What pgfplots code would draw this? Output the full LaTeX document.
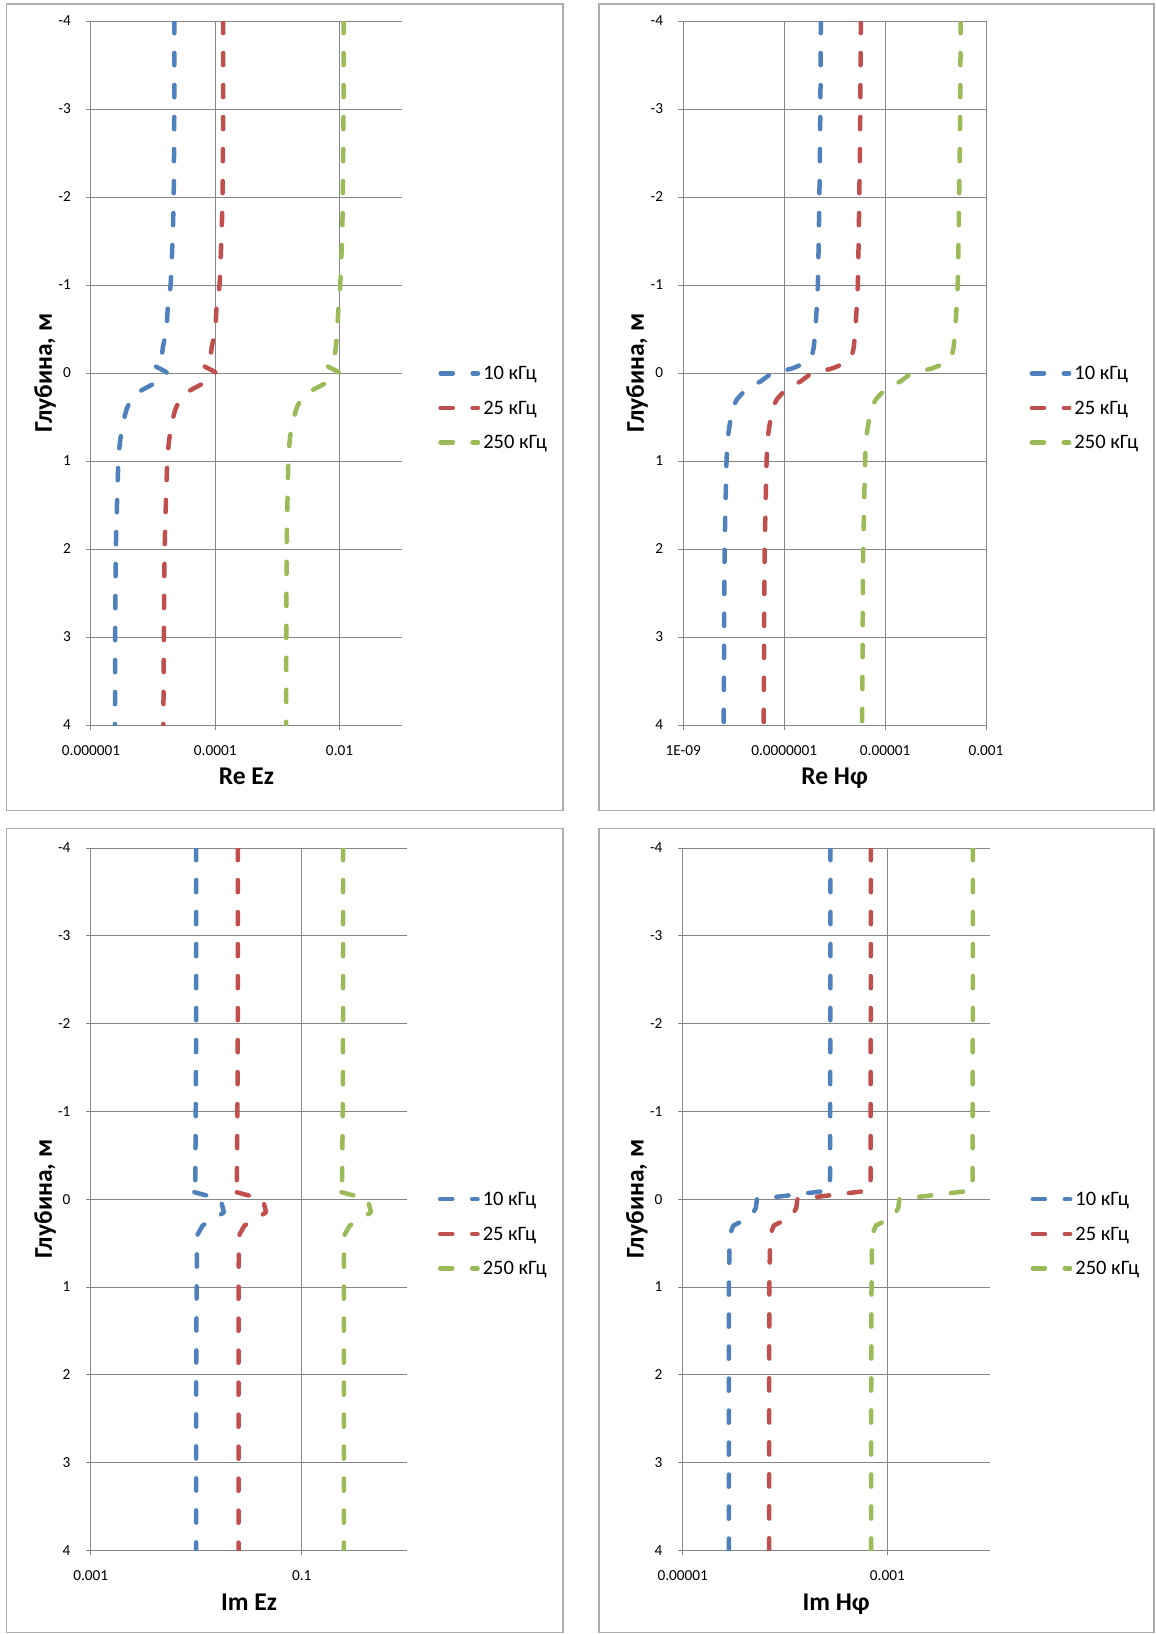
\documentclass[border=0pt]{standalone}
\usepackage{fontspec}
\setmainfont{Carlito}
\usepackage{pgfplots}
\pgfplotsset{compat=1.18}
\definecolor{cA}{HTML}{4F81BD}
\definecolor{cB}{HTML}{C0504D}
\definecolor{cC}{HTML}{9BBB59}
\definecolor{gridc}{HTML}{868686}
\definecolor{framec}{HTML}{ADADAD}
\pgfplotsset{
  panel/.style={
    scale only axis, anchor=north west,
    enlargelimits=false,
    ymin=-4, ymax=4,
    y filter/.expression={-y},
    ytick={-4,-3,-2,-1,0,1,2,3,4},
    yticklabels={4,3,2,1,0,-1,-2,-3,-4},
    minor xtick={}, minor ytick={},
    axis line style={draw=none},
    grid=major,
    major grid style={draw=gridc, line width=1pt},
    tick style={draw=gridc, line width=1pt},
    major tick length=5pt,
    tick align=outside,
    xtick pos=left, ytick pos=left,
    ticklabel style={font=\fontsize{15.3}{18}\selectfont, inner sep=0pt},
    xticklabel style={anchor=north, yshift=-15pt},
    yticklabel style={anchor=east, xshift=-15pt},
    label style={font=\bfseries\fontsize{25.5}{30}\selectfont},
    xlabel style={anchor=base},
    ylabel style={anchor=center, rotate=0},
    legend cell align=left,
    legend style={draw=none, fill=none, inner sep=0pt, outer sep=0pt,
      row sep=22pt, column sep=3pt,
      nodes={inner sep=0pt, text height=12.6pt, text depth=0pt,
        font=\fontsize{20.5}{24}\selectfont}},
    legend image code/.code={\draw[##1] (0pt,0pt) -- (37.4pt,0pt);},
  },
  ser/.style={line width=4.5pt, dash pattern=on 12.2pt off 19.8pt, line cap=round, line join=round},
}
\begin{document}
\begin{tikzpicture}
\path[use as bounding box] (0pt,0pt) rectangle (1156pt,-1634pt);
\draw[framec, line width=1.3pt] (6.7pt,-4pt) rectangle (563pt,-810.7pt);
\draw[framec, line width=1.3pt] (599pt,-4pt) rectangle (1154pt,-810.7pt);
\draw[framec, line width=1.3pt] (6.7pt,-828.7pt) rectangle (563pt,-1632.4pt);
\draw[framec, line width=1.3pt] (599pt,-828.7pt) rectangle (1154pt,-1632.4pt);

% ---------- Re Ez ----------
\begin{axis}[xmode=log, panel, at={(91pt,-21pt)}, width=310.7pt, height=704pt,
  xmin=1e-6, xmax=0.1, xtick={1e-6,1e-4,1e-2},
  xticklabels={0.000001,0.0001,0.01},
  xlabel={Re Ez}, ylabel={Глубина, м},
  xlabel style={at={(axis description cs:0.5,-0.0842)}},
  ylabel style={at={(axis description cs:-0.148,0.5)}},
  legend style={at={(axis description cs:1.118,0.5085)}, anchor=north west}]
\addplot[cA, ser, smooth, tension=0.35] coordinates {(2.19e-5,-4) (2.19e-5,-3) (2.14e-5,-2) (2.05e-5,-1.5) (1.91e-5,-1) (1.74e-5,-0.8) (1.64e-5,-0.5) (1.44e-5,-0.3) (1.36e-5,-0.2) (9.8e-6,-0.1) (1.67e-5,0) (1.16e-5,0.1) (6.4e-6,0.2) (4.5e-6,0.3) (3.8e-6,0.4) (3.46e-6,0.5) (3.04e-6,0.7) (2.76e-6,1) (2.51e-6,2) (2.45e-6,3) (2.43e-6,4)};
\addplot[cB, ser, smooth, tension=0.35] coordinates {(1.34e-4,-4) (1.34e-4,-3) (1.31e-4,-2) (1.25e-4,-1.5) (1.17e-4,-1) (1.06e-4,-0.8) (1.0e-4,-0.5) (8.8e-5,-0.3) (8.3e-5,-0.2) (5.97e-5,-0.1) (1.02e-4,0) (7.06e-5,0.1) (3.9e-5,0.2) (2.74e-5,0.3) (2.32e-5,0.4) (2.11e-5,0.5) (1.86e-5,0.7) (1.69e-5,1) (1.53e-5,2) (1.49e-5,3) (1.46e-5,4)};
\addplot[cC, ser, smooth, tension=0.35] coordinates {(0.01159,-4) (0.01159,-3) (0.0113,-2) (0.01094,-1.5) (0.01026,-1) (0.00968,-0.8) (0.00919,-0.5) (0.00872,-0.3) (0.00818,-0.2) (0.00575,-0.1) (0.00986,0) (0.00655,0.1) (0.00356,0.2) (0.00241,0.3) (0.00204,0.4) (0.00186,0.5) (0.00162,0.7) (0.0015,1) (0.00141,2) (0.00139,3) (0.00138,4)};
\legend{10 кГц, 25 кГц, 250 кГц}
\end{axis}

% ---------- Re Hphi ----------
\begin{axis}[xmode=log, panel, at={(683.3pt,-21pt)}, width=302.7pt, height=704pt,
  xmin=1e-9, xmax=1e-3, xtick={1e-9,1e-7,1e-5,1e-3},
  xticklabels={1E-09,0.0000001,0.00001,0.001},
  xlabel={Re Hφ}, ylabel={Глубина, м},
  xlabel style={at={(axis description cs:0.5,-0.0842)}},
  ylabel style={at={(axis description cs:-0.153,0.5)}},
  legend style={at={(axis description cs:1.144,0.5085)}, anchor=north west}]
\addplot[cA, ser, smooth, tension=0.35] coordinates {(5.33e-7,-4) (5.21e-7,-3) (4.98e-7,-2) (4.65e-7,-1) (4.15e-7,-0.5) (3.87e-7,-0.3) (3.54e-7,-0.2) (3.23e-7,-0.15) (2.24e-7,-0.1) (1.40e-7,-0.05) (5.97e-8,0) (4.35e-8,0.05) (3.30e-8,0.1) (2.19e-8,0.15) (1.67e-8,0.2) (1.16e-8,0.3) (9.6e-9,0.4) (8.8e-9,0.5) (7.8e-9,0.7) (7.2e-9,1) (6.6e-9,2) (6.45e-9,3) (6.3e-9,4)};
\addplot[cB, ser, smooth, tension=0.35] coordinates {(3.30e-6,-4) (3.23e-6,-3) (3.08e-6,-2) (2.88e-6,-1) (2.57e-6,-0.5) (2.40e-6,-0.3) (2.19e-6,-0.2) (2.00e-6,-0.15) (1.39e-6,-0.1) (8.7e-7,-0.05) (3.70e-7,0) (2.69e-7,0.05) (2.05e-7,0.1) (1.36e-7,0.15) (1.03e-7,0.2) (7.16e-8,0.3) (5.97e-8,0.4) (5.46e-8,0.5) (4.82e-8,0.7) (4.48e-8,1) (4.11e-8,2) (4.0e-8,3) (3.91e-8,4)};
\addplot[cC, ser, smooth, tension=0.35] coordinates {(3.15e-4,-4) (3.08e-4,-3) (2.94e-4,-2) (2.75e-4,-1) (2.45e-4,-0.5) (2.29e-4,-0.3) (2.09e-4,-0.2) (1.91e-4,-0.15) (1.33e-4,-0.1) (8.3e-5,-0.05) (3.53e-5,0) (2.57e-5,0.05) (1.95e-5,0.1) (1.28e-5,0.15) (9.6e-6,0.2) (6.58e-6,0.3) (5.42e-6,0.4) (4.9e-6,0.5) (4.33e-6,0.7) (4.02e-6,1) (3.69e-6,2) (3.59e-6,3) (3.51e-6,4)};
\legend{10 кГц, 25 кГц, 250 кГц}
\end{axis}

% ---------- Im Ez ----------
\begin{axis}[xmode=log, panel, at={(90.7pt,-848pt)}, width=316.5pt, height=702.4pt,
  xmin=1e-3, xmax=1, xtick={1e-3,1e-1},
  xticklabels={0.001,0.1},
  xlabel={Im Ez}, ylabel={Глубина, м},
  xlabel style={at={(axis description cs:0.5,-0.0856)}},
  ylabel style={at={(axis description cs:-0.144,0.5)}},
  legend style={at={(axis description cs:1.097,0.509)}, anchor=north west}]
\addplot[cA, ser] coordinates {(0.0100,-4) (0.0100,-3) (0.0100,-2) (0.0099,-1) (0.0098,-0.2) (0.00832,-0.1) (0.01706,0) (0.01832,0.15) (0.0115,0.3) (0.01033,0.4) (0.01019,0.5) (0.0101,1) (0.0100,2) (0.0100,3) (0.0100,4)};
\addplot[cB, ser] coordinates {(0.0248,-4) (0.0248,-3) (0.0248,-2) (0.0246,-1) (0.0243,-0.2) (0.0209,-0.1) (0.0428,0) (0.046,0.15) (0.0287,0.3) (0.0258,0.4) (0.0254,0.5) (0.0252,1) (0.0252,2) (0.0252,3) (0.0252,4)};
\addplot[cC, ser] coordinates {(0.2466,-4) (0.2466,-3) (0.2466,-2) (0.2450,-1) (0.2415,-0.2) (0.206,-0.1) (0.4226,0) (0.4541,0.15) (0.2857,0.3) (0.2561,0.4) (0.2522,0.5) (0.2506,1) (0.2506,2) (0.2506,3) (0.2506,4)};
\legend{10 кГц, 25 кГц, 250 кГц}
\end{axis}

% ---------- Im Hphi ----------
\begin{axis}[xmode=log, panel, at={(682.7pt,-848pt)}, width=307pt, height=702.4pt,
  xmin=1e-5, xmax=1e-2, xtick={1e-5,1e-3},
  xticklabels={0.00001,0.001},
  xlabel={Im Hφ}, ylabel={Глубина, м},
  xlabel style={at={(axis description cs:0.5,-0.0856)}},
  ylabel style={at={(axis description cs:-0.149,0.5)}},
  legend style={at={(axis description cs:1.133,0.509)}, anchor=north west}]
\addplot[cA, ser] coordinates {(2.78e-4,-4) (2.78e-4,-3) (2.77e-4,-2) (2.76e-4,-1) (2.75e-4,-0.2) (2.74e-4,-0.1) (5.31e-5,0) (5.19e-5,0.1) (4.63e-5,0.2) (3.13e-5,0.3) (2.89e-5,0.4) (2.86e-5,0.6) (2.83e-5,1) (2.82e-5,2) (2.82e-5,3) (2.82e-5,4)};
\addplot[cB, ser] coordinates {(6.90e-4,-4) (6.90e-4,-3) (6.88e-4,-2) (6.86e-4,-1) (6.85e-4,-0.2) (6.84e-4,-0.1) (1.318e-4,0) (1.288e-4,0.1) (1.15e-4,0.2) (7.78e-5,0.3) (7.18e-5,0.4) (7.11e-5,0.6) (7.03e-5,1) (7.0e-5,2) (7.0e-5,3) (7.0e-5,4)};
\addplot[cC, ser] coordinates {(6.85e-3,-4) (6.85e-3,-3) (6.83e-3,-2) (6.81e-3,-1) (6.80e-3,-0.2) (6.79e-3,-0.1) (1.31e-3,0) (1.28e-3,0.1) (1.14e-3,0.2) (7.73e-4,0.3) (7.13e-4,0.4) (7.06e-4,0.6) (7.0e-4,1) (6.96e-4,2) (6.95e-4,3) (6.95e-4,4)};
\legend{10 кГц, 25 кГц, 250 кГц}
\end{axis}
\end{tikzpicture}
\end{document}
